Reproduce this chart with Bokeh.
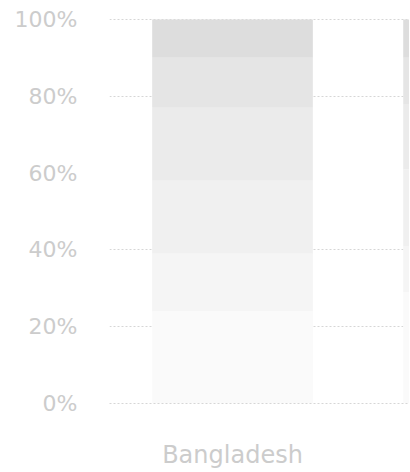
from bokeh.plotting import figure
from bokeh.models import ColumnDataSource, Range1d, FixedTicker, NumeralTickFormatter
from bokeh.embed import file_html
from bokeh.resources import INLINE

# Data (100% stacked shares, bottom to top)
categories = ["Bangladesh", "Next"]
series = ["s1", "s2", "s3", "s4", "s5", "s6"]
s1 = [0.24, 0.29]
s2 = [0.15, 0.12]
s3 = [0.19, 0.20]
s4 = [0.19, 0.17]
s5 = [0.13, 0.12]
s6 = [0.10, 0.10]
colors = ["#fafafa", "#f5f5f5", "#f0f0f0", "#ebebeb", "#e5e5e5", "#dddddd"]
y_ticks = [0, 0.2, 0.4, 0.6, 0.8, 1.0]
grid_ticks = [0.2, 0.4, 0.8, 1.0]

xs = list(range(len(categories)))
source = ColumnDataSource(dict(x=xs, s1=s1, s2=s2, s3=s3, s4=s4, s5=s5, s6=s6))

p = figure(width=409, height=471, output_backend="svg", toolbar_location=None,
           x_range=Range1d(-0.49, 0.705), y_range=Range1d(0, 1.005),
           min_border_left=109, min_border_right=0, min_border_top=17, min_border_bottom=10)

p.vbar_stack(series, x="x", width=0.64, source=source, color=colors, line_color=None)

p.outline_line_color = None
p.background_fill_color = "white"

p.yaxis.ticker = FixedTicker(ticks=y_ticks)
p.yaxis.formatter = NumeralTickFormatter(format="0%")
p.xaxis.ticker = FixedTicker(ticks=[0])
p.xaxis.major_label_overrides = {0: categories[0]}

for ax in (p.xaxis[0], p.yaxis[0]):
    ax.axis_line_color = None
    ax.major_tick_line_color = None
    ax.minor_tick_line_color = None
    ax.major_tick_out = 0
    ax.major_tick_in = 0
    ax.major_label_text_color = "#cccccc"
    ax.major_label_text_font = "DejaVu Sans"

p.xaxis.axis_line_color = "#d6d6d6"
p.xaxis.axis_line_dash = "2 2"
p.xaxis.axis_line_width = 1

p.yaxis.major_label_text_font_size = "22px"
p.yaxis.major_label_standoff = 32
p.xaxis.major_label_text_font_size = "24px"
p.xaxis.major_label_standoff = 37

p.xgrid.grid_line_color = None
p.ygrid.ticker = FixedTicker(ticks=grid_ticks)
p.ygrid.grid_line_color = "#d6d6d6"
p.ygrid.grid_line_dash = "2 2"
p.ygrid.grid_line_width = 1

open("out.html", "w").write(file_html(p, INLINE))
